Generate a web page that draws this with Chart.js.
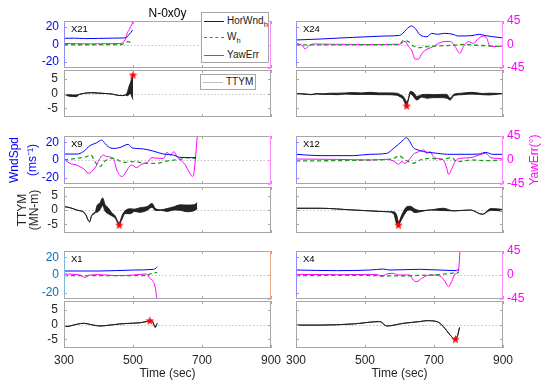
<!DOCTYPE html>
<html><head><meta charset="utf-8">
<script src="https://cdn.jsdelivr.net/npm/chart.js@4.4.1/dist/chart.umd.min.js"></script>
<style>
html,body{margin:0;padding:0;background:#fff;}
body{position:relative;width:550px;height:388px;overflow:hidden;font-family:"Liberation Sans",Arial,sans-serif;}
canvas{position:absolute;}
.lg{position:absolute;box-sizing:border-box;background:#fff;border:1px solid #a6a6a6;z-index:5;}
.lg .s{position:absolute;left:2px;width:20px;height:0;}
.lg .t{position:absolute;left:25px;font-size:10px;line-height:12px;color:#1a1a1a;white-space:nowrap;}
.lg sub{font-size:7.5px;vertical-align:-3px;line-height:0;}
</style></head><body>
<script>
// ---------------- data ----------------
const TITLE = 'N-0x0y';
const X_TITLE = 'Time (sec)';
const X_TICKS = [300, 500, 700, 900];
const WIND_TICKS = [-20, 0, 20];
const YAW_TICKS = [-45, 0, 45];
const TTYM_TICKS = [-5, 0, 5];
const SERIES_LABELS = ['HorWnd_h', 'W_h', 'YawErr', 'TTYM'];

// X21
const X21_HOR = [[300,7.1],[330,7.3],[360,6.8],[400,7.0],[440,7.3],[470,7.5],[480,7.8],[489,11.7],[494,14],[499,16.7]];
const X21_WH  = [[300,0],[340,-0.3],[380,-0.3],[420,0],[460,-0.2],[470,0.5],[480,2.5],[487,3.2],[493,2.5],[500,2]];
const X21_YAW = [[300,2],[340,1.5],[380,1.2],[420,1.5],[460,1.8],[470,3.5],[479,12],[484,23],[489,28],[493,34],[498,41],[501,50]];
const X21_TTYM = [[300,0,0],[305,-0.3,-0.5],[315,-0.4,-0.9],[325,-0.5,-1.0],[335,-0.5,-1.1],[345,-0.25,-0.35],[360,0.1,0.1],[380,0.3,0.2],[400,0.2,0.1],[420,0,0],[440,-0.2,-0.2],[455,-0.6,-0.6],[470,-0.7,-0.7],[478,-0.5,-0.5],[483,0.3,-0.8],[488,2.2,-0.4],[493,3.8,0],[497,5.4,-1.2],[500,6,-2]];
const X21_PEAK = [500, 6.3];

// X24
const X24_HOR = [[300,5.2],[370,6.3],[466,8.2],[514,9],[563,9.8],[600,10.5],[610,13],[620,17.4],[635,21.3],[645,18.6],[660,10.9],[680,9],[693,12.8],[710,11.7],[730,12.8],[755,11.7],[770,9.8],[810,10.2],[830,11.7],[850,10.2],[870,9],[900,7.5]];
const X24_WH  = [[300,-0.5],[400,-0.5],[500,-0.3],[600,0],[611,4.4],[626,3.3],[640,-1.7],[660,-3.6],[680,-2.5],[710,-1.7],[750,-1],[790,0],[830,-1],[860,-1.7],[900,-2.5]];
const X24_YAW = [[300,2],[312,0.3],[320,-3],[326,-8.6],[336,-2.9],[350,1],[400,0.5],[500,0],[600,0.5],[616,6],[626,-4],[635,-10.5],[645,-28],[655,-28],[665,-17],[680,-9],[698,-4],[708,0.3],[727,5.4],[747,6],[761,-4],[775,-17],[785,-4],[800,5.4],[814,2.2],[829,11.8],[843,16],[853,11.8],[862,-2.9],[881,-4],[900,-3]];
const X24_TTYM = [[300,0,0],[320,-0.1,-0.2],[345,-0.3,-0.4],[360,0,-0.2],[380,-0.1,-0.3],[400,0.1,-0.3],[420,0.1,-0.4],[445,0.2,-0.2],[466,0.3,-0.3],[490,0.2,-0.3],[514,0.4,-0.3],[540,0.2,-0.4],[560,0.2,-0.4],[592,0.1,-0.6],[605,-0.6,-1.4],[611,-1,-2],[617,-2.2,-3.6],[621,-2.8,-4.2],[626,-1.6,-2.1],[631,0.7,-0.1],[640,0.4,-1],[650,-1,-2.2],[665,-0.4,-1.2],[680,-0.3,-1.6],[700,-0.4,-1.4],[720,-0.3,-1.4],[737,-0.3,-1.6],[747,-1.6,-2.2],[757,-0.3,-0.8],[780,0.1,-0.4],[810,0.4,-0.2],[840,0,-0.4],[860,0.1,-0.5],[900,0,0]];
const X24_PEAK = [621, -4.2];

// X9
const X9_HOR = [[300,6.7],[337,6.7],[356,9.4],[375,16],[395,19.5],[409,22.5],[419,18.5],[428,15],[443,13],[462,14],[486,17.6],[496,14],[510,13],[530,12.4],[559,10],[588,6.7],[617,5.6],[636,3],[683,2.6]];
const X9_WH  = [[300,0],[337,1.9],[366,3.7],[378,5.6],[391,-2.6],[404,-7.5],[419,-1],[443,1.9],[472,-2.6],[502,-1.9],[541,-3.7],[570,-3.7],[599,-1],[637,0.7],[656,2.6],[683,1.9]];
const X9_YAW = [[300,1.2],[317,-6.3],[337,-9.4],[361,-18.8],[370,-25],[380,-21.9],[395,-9.4],[404,3.1],[414,9.4],[424,6.3],[443,3.1],[453,-18.8],[468,-31],[477,-25],[486,-15.6],[496,-9.4],[510,-14.4],[525,-8.1],[541,-4.4],[555,4.4],[575,3.1],[589,3.1],[599,14.4],[609,9.4],[618,15.6],[628,6.3],[643,-3.1],[652,-9.4],[662,-21.9],[672,-31],[677,-21.9],[685,34],[690,70]];
const X9_TTYM = [[300,1.2,1.2],[317,0.8,0.8],[337,0,0],[361,-1.2,-1.2],[374,-4.1,-4.1],[380,-2,-2],[391,-0.8,-0.8],[395,1.3,-0.8],[404,2.4,0.1],[412,4.2,1.6],[419,1.9,-0.4],[428,0.8,-1.3],[438,-0.9,-2],[448,-2,-2.8],[460,-4.6,-5.1],[468,-2,-3.2],[477,-0.3,-1.2],[491,0.4,-1.3],[505,0.3,-0.5],[520,0.8,-0.8],[541,1.2,-0.1],[555,2.3,1],[565,0.5,-0.2],[580,0.1,-0.1],[599,0.5,-0.5],[618,1.1,0],[637,1.8,-0.1],[656,1.7,-0.6],[676,1.8,-0.3],[686,2.5,0.4]];
const X9_PEAK = [460, -5.2];

// X12
const X12_HOR = [[300,6.4],[370,4.9],[466,4.9],[514,6.4],[563,7.5],[583,13.1],[597,17.6],[611,22.5],[620,25.1],[630,20.6],[640,13.9],[655,11.2],[670,9.4],[684,8.6],[710,7.5],[739,6.4],[790,6.4],[830,6.7],[850,8.6],[870,6.4],[900,6.4]];
const X12_WH  = [[300,-1.1],[418,-0.7],[514,0],[573,1.1],[588,2.6],[597,4.9],[611,1.9],[626,-1.9],[640,-3.7],[660,0],[689,1.9],[718,0.7],[752,2.6],[766,-1.9],[806,0],[855,-0.7],[900,0]];
const X12_YAW = [[300,1.9],[418,1.2],[514,0],[563,1.2],[583,-1.9],[597,-8.1],[607,-3.1],[616,-6.3],[631,3.1],[640,10.6],[655,15.6],[670,18.8],[680,12.5],[689,15.6],[698,6.3],[708,3.1],[727,0],[737,-15.6],[742,-26.9],[752,-15.6],[762,-1.9],[776,3.1],[806,4.4],[831,9.4],[850,12.5],[865,4.4],[882,3.1],[900,1.9]];
const X12_TTYM = [[300,0.6,0.6],[370,0.6,0.6],[466,0,0],[514,-0.3,-0.3],[563,-0.6,-0.6],[583,-0.6,-1.3],[592,-1.8,-4.8],[597,-4.2,-5.1],[607,-1.6,-3.1],[621,1.1,-0.4],[631,1.3,0],[645,0.3,-0.9],[660,-0.2,-0.6],[689,0,0],[727,0.6,-0.2],[757,-0.3,-0.3],[806,0,0],[840,-1.5,-1.5],[865,0.5,-0.1],[900,0.2,-0.4]];
const X12_PEAK = [597, -5.2];

// X1
const X1_HOR = [[300,4.5],[404,4.5],[502,5.6],[560,6.4],[566,7.5],[570,9.4]];
const X1_WH  = [[300,-0.7],[400,-0.7],[500,-0.7],[540,-0.5],[549,1.1],[565,2.6],[570,2.6]];
const X1_YAW = [[300,1.9],[346,0],[361,-4.4],[375,0],[404,0.6],[453,-1.2],[502,0],[539,1.9],[549,-6.3],[559,-12.5],[564,-21.9],[568,-40],[571,-60]];
const X1_TTYM = [[300,-0.2,-0.2],[308,-0.7,-0.7],[327,-0.2,-0.2],[356,0.4,0.4],[385,-0.2,-0.2],[404,-0.5,-0.5],[433,-0.2,-0.2],[462,0.2,0.2],[491,0.4,0.4],[520,0.6,0.6],[539,1,1],[549,1.3,1.3],[557,1,1],[561,-0.2,-0.2],[564,-1,-1],[570,0.4,0.4]];
const X1_PEAK = [549, 1.3];

// X4
const X4_HOR = [[300,5.6],[418,4.9],[514,5.6],[553,6.7],[572,5.6],[659,6.4],[765,4.9],[770,6],[773,5.6]];
const X4_WH  = [[300,-0.7],[466,-0.4],[611,-1.1],[659,-0.4],[708,0.4],[747,1.9],[765,2.6],[772,2.6]];
const X4_YAW = [[300,1.2],[418,0.6],[534,1.2],[548,-3.1],[563,1.9],[582,3.1],[597,0],[630,0],[640,-9.4],[650,-12.5],[664,-6.3],[688,0],[717,-1.9],[732,-12.5],[742,-21.9],[751,-12.5],[761,1.9],[770,6.3],[774,30],[776,60]];
const X4_TTYM = [[300,-0.2,-0.2],[370,-0.2,-0.2],[466,0.2,0.2],[543,1,1],[563,-0.5,-0.5],[611,0.4,0.4],[659,1,1],[679,1.3,1.3],[708,1,1],[727,-0.7,-0.7],[747,-3.6,-3.6],[761,-5,-5],[768,-3.9,-3.9],[774,-1,-1]];
const X4_PEAK = [762, -5];

// ---------------- styling / layout ----------------
const C_HOR = '#0000ff', C_WH = '#1f9e1f', C_YAW = '#ff00ff', C_TT = '#1a1a1a', C_PEAK = '#ff0000';
const COL = [{cl:0, l:64, r:271, cr:290}, {cl:275, l:296, r:503, cr:550}];
const ROWS = [{w:[21,68], t:[70,117]}, {w:[136,184], t:[187,233]}, {w:[251,299], t:[301,348]}];

Chart.defaults.font.family = "'Liberation Sans', Arial, sans-serif";
Chart.defaults.font.size = 12;
Chart.defaults.color = '#262626';

function starImage() {
  const c = document.createElement('canvas'); c.width = c.height = 9;
  const g = c.getContext('2d'); g.fillStyle = C_PEAK; g.beginPath();
  for (let i = 0; i < 10; i++) {
    const r = i % 2 ? 1.9 : 4.5, a = -Math.PI / 2 + i * Math.PI / 5;
    g.lineTo(4.5 + r * Math.cos(a), 4.8 + r * Math.sin(a));
  }
  g.closePath(); g.fill(); return c;
}
const STAR = starImage();

const framePlugin = {
  id: 'frame',
  beforeDatasetsDraw(chart, _a, o) {
    const {ctx, chartArea: a} = chart;
    const y0 = Math.round(chart.scales.y.getPixelForValue(0)) + 0.5;
    ctx.save(); ctx.strokeStyle = '#c4c4c4'; ctx.lineWidth = 1; ctx.setLineDash([1.5, 2]);
    ctx.beginPath(); ctx.moveTo(a.left, y0); ctx.lineTo(a.right, y0); ctx.stroke(); ctx.restore();
  },
  afterDraw(chart, _a, o) {
    const {ctx, chartArea: a} = chart;
    const L = a.left + 0.5, R = a.right - 0.5, T = a.top + 0.5, B = a.bottom - 0.5;
    ctx.save(); ctx.lineWidth = 1;
    const seg = (c, x1, y1, x2, y2) => { ctx.strokeStyle = c; ctx.beginPath(); ctx.moveTo(x1, y1); ctx.lineTo(x2, y2); ctx.stroke(); };
    seg(o.tb, a.left, T, a.right, T); seg(o.tb, a.left, B, a.right, B);
    seg(o.left, L, a.top, L, a.bottom); seg(o.right, R, a.top, R, a.bottom);
    const xs = chart.scales.x;
    X_TICKS.forEach(v => { const p = Math.round(xs.getPixelForValue(v)) + 0.5;
      seg(o.tb, p, a.top, p, a.top + 3); seg(o.tb, p, a.bottom, p, a.bottom - 3); });
    const ys = chart.scales.y;
    o.lTicks.forEach(v => { const p = Math.round(ys.getPixelForValue(v)) + 0.5; seg(o.left, a.left, p, a.left + 3, p); });
    const rs = chart.scales[o.rAxis] || ys;
    o.rTicks.forEach(v => { const p = Math.round(rs.getPixelForValue(v)) + 0.5; seg(o.right, a.right, p, a.right - 3, p); });
    if (o.label) {
      ctx.fillStyle = '#000'; ctx.font = "9.5px 'Liberation Sans', Arial, sans-serif";
      ctx.textBaseline = 'middle'; ctx.textAlign = 'left';
      ctx.fillText(o.label, a.left + 7, a.top + 8.5);
    }
    if (o.rTitle) {
      ctx.translate(a.right + 31.5, (a.top + a.bottom) / 2); ctx.rotate(-Math.PI / 2);
      ctx.fillStyle = o.rTitleColor; ctx.font = "12px 'Liberation Sans', Arial, sans-serif";
      ctx.textAlign = 'center'; ctx.textBaseline = 'middle'; ctx.fillText(o.rTitle, 0, 0);
    }
    ctx.restore();
  }
};

function makeCanvas(cl, ct, cr, cb) {
  const c = document.createElement('canvas');
  const W = cr - cl, H = cb - ct;
  c.width = W; c.height = H;
  Object.assign(c.style, {left: cl + 'px', top: ct + 'px', width: W + 'px', height: H + 'px'});
  document.body.appendChild(c);
  return c;
}

function yScale(pos, min, max, ticks, w, show, color, pad, title) {
  return {
    position: pos, min: min, max: max,
    afterBuildTicks: s => { s.ticks = ticks.map(v => ({value: v})); },
    afterFit: s => { s.width = w; s.paddingTop = 0; s.paddingBottom = 0; },
    ticks: {display: show, color: color, padding: pad, font: {size: 12}},
    grid: {display: false, drawTicks: false}, border: {display: false},
    title: title || {display: false}
  };
}
function xScale(show, h) {
  return {
    type: 'linear', min: 300, max: 900, display: show,
    ticks: {stepSize: 200, padding: 5, color: '#262626', maxRotation: 0, autoSkip: false, font: {size: 12}},
    grid: {display: false, drawTicks: false}, border: {display: false},
    title: {display: show, text: X_TITLE, color: '#262626', font: {size: 12}, padding: {top: 0, bottom: 7}},
    afterFit: s => { s.height = h; s.paddingLeft = 0; s.paddingRight = 0; }
  };
}

const charts = {};
function windPanel(name, col, row, hor, wh, yaw, o) {
  const C = COL[col], [t, b] = ROWS[row].w;
  const ct = row === 0 ? 0 : t - 10, cb = b + 6;
  const canvas = makeCanvas(C.cl, ct, C.cr, cb);
  const leftW = C.l - C.cl, rightW = C.cr - C.r;
  const cfg = {
    type: 'line',
    data: {datasets: [
      {label: SERIES_LABELS[0], data: hor, borderColor: C_HOR, borderWidth: 1, yAxisID: 'y'},
      {label: SERIES_LABELS[1], data: wh, borderColor: C_WH, borderWidth: 1.3, borderDash: [4, 3], yAxisID: 'y'},
      {label: SERIES_LABELS[2], data: yaw, borderColor: C_YAW, borderWidth: 1, yAxisID: 'y2'}
    ]},
    options: {
      responsive: false, animation: false, devicePixelRatio: 1, events: [],
      elements: {point: {radius: 0}, line: {cubicInterpolationMode: 'monotone'}},
      layout: {padding: {top: o.title ? 0 : t - ct, bottom: cb - b, left: 0, right: 0}},
      scales: {
        x: xScale(false, 0),
        y: yScale('left', -27, 27, WIND_TICKS, leftW, col === 0, o.tickColor || C_HOR, 5, o.yTitle),
        y2: yScale('right', -45, 45, YAW_TICKS, rightW, col === 1, C_YAW, 4)
      },
      plugins: {
        legend: {display: false}, tooltip: {enabled: false},
        title: o.title ? {display: true, text: o.title, fullSize: false, color: '#000',
          font: {size: 12, weight: 'normal'}, padding: {top: 6, bottom: t - 6 - 14.4}} : {display: false},
        frame: {tb: '#a6a6a6', left: o.leftBorder || '#8c8cff', right: o.rightBorder || '#ff8cff',
          lTicks: WIND_TICKS, rAxis: 'y2', rTicks: YAW_TICKS, label: name,
          rTitle: o.rTitle, rTitleColor: C_YAW}
      }
    },
    plugins: [framePlugin]
  };
  charts[name + '_w'] = new Chart(canvas, cfg);
}

function ttymPanel(name, col, row, tt, peak, o) {
  const C = COL[col], [t, b] = ROWS[row].t;
  const isBottom = row === 2;
  const ct = t - 9, cb = isBottom ? 388 : b + 9;
  const canvas = makeCanvas(C.cl, ct, C.cr, cb);
  const leftW = C.l - C.cl, rightW = C.cr - C.r;
  const cfg = {
    type: 'line',
    data: {datasets: [
      {label: 'peak', data: [peak], pointStyle: STAR, pointRadius: 5, showLine: false, yAxisID: 'y'},
      {label: SERIES_LABELS[3], data: tt.map(r => [r[0], r[1]]), borderColor: C_TT, borderWidth: 0.9, pointRadius: 0, yAxisID: 'y'},
      {label: SERIES_LABELS[3] + ' (low)', data: tt.map(r => [r[0], r[2]]), borderColor: C_TT, borderWidth: 0.9, pointRadius: 0,
        fill: '-1', backgroundColor: '#222', yAxisID: 'y'}
    ]},
    options: {
      responsive: false, animation: false, devicePixelRatio: 1, events: [],
      elements: {line: {cubicInterpolationMode: 'monotone'}},
      layout: {padding: {top: t - ct, bottom: isBottom ? 0 : cb - b, left: 0, right: rightW}},
      scales: {
        x: xScale(isBottom, isBottom ? cb - b : 0),
        y: yScale('left', -8, 8, TTYM_TICKS, leftW, col === 0, '#262626', 6, o.yTitle)
      },
      plugins: {
        legend: {display: false}, tooltip: {enabled: false},
        frame: {tb: '#a6a6a6', left: '#a6a6a6', right: '#a6a6a6', lTicks: TTYM_TICKS, rTicks: TTYM_TICKS}
      }
    },
    plugins: [framePlugin]
  };
  charts[name + '_t'] = new Chart(canvas, cfg);
}

windPanel('X21', 0, 0, X21_HOR, X21_WH, X21_YAW, {title: TITLE});
ttymPanel('X21', 0, 0, X21_TTYM, X21_PEAK, {});
windPanel('X24', 1, 0, X24_HOR, X24_WH, X24_YAW, {});
ttymPanel('X24', 1, 0, X24_TTYM, X24_PEAK, {});
windPanel('X9', 0, 1, X9_HOR, X9_WH, X9_YAW, {yTitle: {display: true, text: ['WndSpd', '(ms\u207B\u00B9)'], color: C_HOR,
  font: {size: 12, lineHeight: 1.55}, padding: {top: 5, bottom: 0}}});
ttymPanel('X9', 0, 1, X9_TTYM, X9_PEAK, {yTitle: {display: true, text: ['TTYM', '(MN-m)'], color: '#262626',
  font: {size: 12, lineHeight: 0.96}, padding: {top: 17, bottom: 0}}});
windPanel('X12', 1, 1, X12_HOR, X12_WH, X12_YAW, {rTitle: 'YawErr(\u00B0)'});
ttymPanel('X12', 1, 1, X12_TTYM, X12_PEAK, {});
windPanel('X1', 0, 2, X1_HOR, X1_WH, X1_YAW, {tickColor: '#0072BD', leftBorder: '#7fb6e0', rightBorder: '#eca98c'});
ttymPanel('X1', 0, 2, X1_TTYM, X1_PEAK, {});
windPanel('X4', 1, 2, X4_HOR, X4_WH, X4_YAW, {});
ttymPanel('X4', 1, 2, X4_TTYM, X4_PEAK, {});

// ---------------- HTML legends built from the chart datasets ----------------
function legendBox(left, top, w, h, items) {
  const box = document.createElement('div'); box.className = 'lg';
  Object.assign(box.style, {left: left + 'px', top: top + 'px', width: w + 'px', height: h + 'px'});
  items.forEach(it => {
    const s = document.createElement('div'); s.className = 's';
    s.style.top = it.y + 'px';
    s.style.borderTop = (it.dash ? '1.3px dashed ' : '1px solid ') + it.color;
    const tx = document.createElement('div'); tx.className = 't';
    tx.style.top = (it.y - 6) + 'px';
    const parts = it.label.split('_');
    tx.appendChild(document.createTextNode(parts[0]));
    if (parts[1]) { const sb = document.createElement('sub'); sb.textContent = parts[1]; tx.appendChild(sb); }
    box.appendChild(s); box.appendChild(tx);
  });
  document.body.appendChild(box);
}
const wds = charts.X21_w.data.datasets;
const rowY = [8, 24, 42];
legendBox(201, 12, 68, 51, wds.map((d, i) => ({label: d.label, color: d.borderColor, dash: !!d.borderDash, y: rowY[i]})));
const tds = charts.X21_t.data.datasets[1];
legendBox(200, 74, 56, 16, [{label: tds.label, color: '#bfbfbf', dash: false, y: 7}]);
</script>
</body></html>
